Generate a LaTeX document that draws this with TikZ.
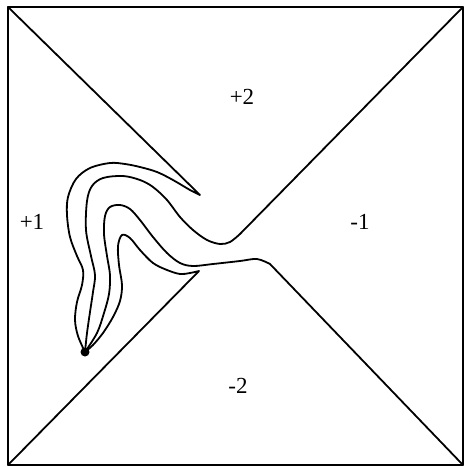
\documentclass[tikz,border=0pt]{standalone}
\usepackage{fontspec}
\setmainfont{Liberation Serif}
\begin{document}
\begin{tikzpicture}[x=1pt,y=-1pt,line width=1.8pt,line join=round,line cap=round,font=\fontsize{23}{23}\selectfont,
  bdry/.style={smooth,tension=0.55}]
\useasboundingbox (0,0) rectangle (465,467);
\coordinate (tl) at (8,7); \coordinate (tr) at (463,7);
\coordinate (br) at (463,465); \coordinate (bl) at (8,465);
\coordinate (c) at (85,352);
\coordinate (ta) at (200,195); \coordinate (tb) at (240,234);
\coordinate (tc) at (270,264); \coordinate (td) at (199,271);
\draw[line width=2pt] (tl) rectangle (br);
\draw (tl) -- plot[bdry] coordinates {(ta) (190,190) (173,180) (157,172) (140,167) (125,164) (110,163) (90,168) (76,179) (68,197) (67,215) (70,237) (77,256) (83,270) (82,285) (77,302) (75,320) (78,336) (c)};
\draw (tr) -- plot[bdry] coordinates {(tb) (230,242) (220,244) (207,240) (193,230) (180,217) (167,200) (153,187) (140,180) (123,176) (103,178) (92,186) (87,201) (86,230) (91,256) (95,275) (93,292) (90,312) (87,333) (c)};
\draw (br) -- plot[bdry] coordinates {(tc) (257,259) (240,261) (213,264) (193,266) (180,263) (167,253) (153,237) (140,220) (130,209) (120,205) (110,207) (105,216) (104,234) (107,256) (110,275) (109,294) (104,313) (97,333) (c)};
\draw (bl) -- plot[bdry] coordinates {(td) (190,273) (180,274) (167,270) (153,263) (140,250) (130,238) (122,235) (118,246) (119,265) (122,285) (120,301) (113,317) (103,333) (93,345) (c)};
\fill (c) circle[radius=4.5pt];
\foreach \x/\y/\t/\n in {32/222/+1/lp1,242/97/+2/lp2,360/222/-1/lm1,238/386/-2/lm2} {\node (\n) at (\x,\y) {\t};}
\end{tikzpicture}
\end{document}
